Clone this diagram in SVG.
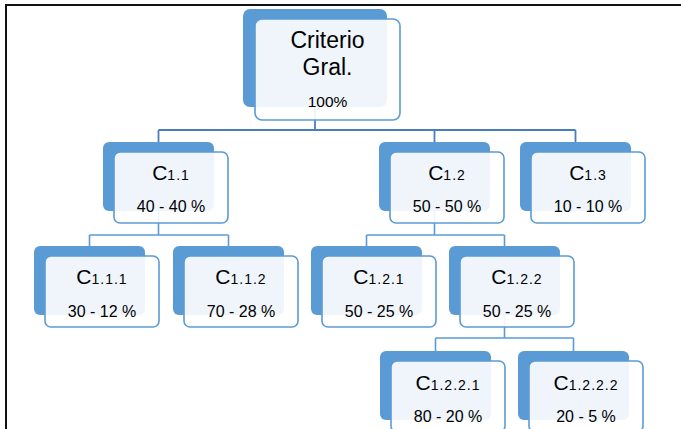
<svg xmlns="http://www.w3.org/2000/svg" width="681" height="429" viewBox="0 0 681 429">
<style>
.bk{fill:#5B9BD5;}
.fr{fill:#ffffff;fill-opacity:0.9;stroke:#5B9BD5;stroke-width:1.6;}
.t{font-family:"Liberation Sans",Arial,sans-serif;fill:#000;text-anchor:middle;}
.c{font-size:21px;}
.s{font-size:14px;letter-spacing:1px;}
.lb{font-size:16px;}
.cn{fill:none;stroke:#5B9BD5;stroke-width:1.6;}
.cn0{fill:none;stroke:#4A7EBB;stroke-width:1.8;}
</style>
<rect width="681" height="429" fill="#ffffff"/>
<path d="M6 429 V5 H681" fill="none" stroke="#111" stroke-width="2"/>
<g id="connectors">
<path class="cn0" d="M315 107 V130 M158.5 130 H575.5 M158.5 130 V142 M434.5 130 V142 M575.5 130 V142"/>
<path class="cn" d="M158.5 211 V235 M89.5 235 H228.5 M89.5 235 V246 M228.5 235 V246"/>
<path class="cn" d="M434.5 211 V235 M366.5 235 H504.5 M366.5 235 V246 M504.5 235 V246"/>
<path class="cn" d="M504.5 315 V338 M435.5 338 H573.5 M435.5 338 V351 M573.5 338 V351"/>
</g>
<g id="root">
<rect class="bk" x="243" y="9" width="144" height="98" rx="7"/>
<rect class="fr" x="255" y="19" width="145" height="101" rx="7"/>
<text class="t" x="327.5" y="48" font-size="23">Criterio</text>
<text class="t" x="327.5" y="75" font-size="23">Gral.</text>
<text class="t" x="327.5" y="107" font-size="15.5">100%</text>
</g>
<g id="c11">
<rect class="bk" x="103" y="142" width="111" height="69" rx="6"/>
<rect class="fr" x="114" y="152" width="114" height="71" rx="6"/>
<text class="t" x="171" y="180"><tspan class="c">C</tspan><tspan class="s">1.1</tspan></text>
<text class="t lb" x="171" y="212">40 - 40 %</text>
</g>
<g id="c12">
<rect class="bk" x="379" y="142" width="111" height="69" rx="6"/>
<rect class="fr" x="390" y="152" width="114" height="71" rx="6"/>
<text class="t" x="447" y="180"><tspan class="c">C</tspan><tspan class="s">1.2</tspan></text>
<text class="t lb" x="447" y="212">50 - 50 %</text>
</g>
<g id="c13">
<rect class="bk" x="520" y="142" width="111" height="69" rx="6"/>
<rect class="fr" x="531" y="152" width="114" height="71" rx="6"/>
<text class="t" x="588" y="180"><tspan class="c">C</tspan><tspan class="s">1.3</tspan></text>
<text class="t lb" x="588" y="212">10 - 10 %</text>
</g>
<g id="c111">
<rect class="bk" x="34" y="246" width="111" height="69" rx="6"/>
<rect class="fr" x="45" y="256" width="114" height="71" rx="6"/>
<text class="t" x="102" y="284"><tspan class="c">C</tspan><tspan class="s">1.1.1</tspan></text>
<text class="t lb" x="102" y="317">30 - 12 %</text>
</g>
<g id="c112">
<rect class="bk" x="173" y="246" width="111" height="69" rx="6"/>
<rect class="fr" x="184" y="256" width="114" height="71" rx="6"/>
<text class="t" x="241" y="284"><tspan class="c">C</tspan><tspan class="s">1.1.2</tspan></text>
<text class="t lb" x="241" y="317">70 - 28 %</text>
</g>
<g id="c121">
<rect class="bk" x="311" y="246" width="111" height="69" rx="6"/>
<rect class="fr" x="322" y="256" width="114" height="71" rx="6"/>
<text class="t" x="379" y="284"><tspan class="c">C</tspan><tspan class="s">1.2.1</tspan></text>
<text class="t lb" x="379" y="317">50 - 25 %</text>
</g>
<g id="c122">
<rect class="bk" x="449" y="246" width="111" height="69" rx="6"/>
<rect class="fr" x="460" y="256" width="114" height="71" rx="6"/>
<text class="t" x="517" y="284"><tspan class="c">C</tspan><tspan class="s">1.2.2</tspan></text>
<text class="t lb" x="517" y="317">50 - 25 %</text>
</g>
<g id="c1221">
<rect class="bk" x="380" y="351" width="111" height="69" rx="6"/>
<rect class="fr" x="391" y="361" width="114" height="71" rx="6"/>
<text class="t" x="448" y="390"><tspan class="c">C</tspan><tspan class="s">1.2.2.1</tspan></text>
<text class="t lb" x="448" y="422">80 - 20 %</text>
</g>
<g id="c1222">
<rect class="bk" x="518" y="351" width="111" height="69" rx="6"/>
<rect class="fr" x="529" y="361" width="114" height="71" rx="6"/>
<text class="t" x="586" y="390"><tspan class="c">C</tspan><tspan class="s">1.2.2.2</tspan></text>
<text class="t lb" x="586" y="422">20 - 5 %</text>
</g>
</svg>
